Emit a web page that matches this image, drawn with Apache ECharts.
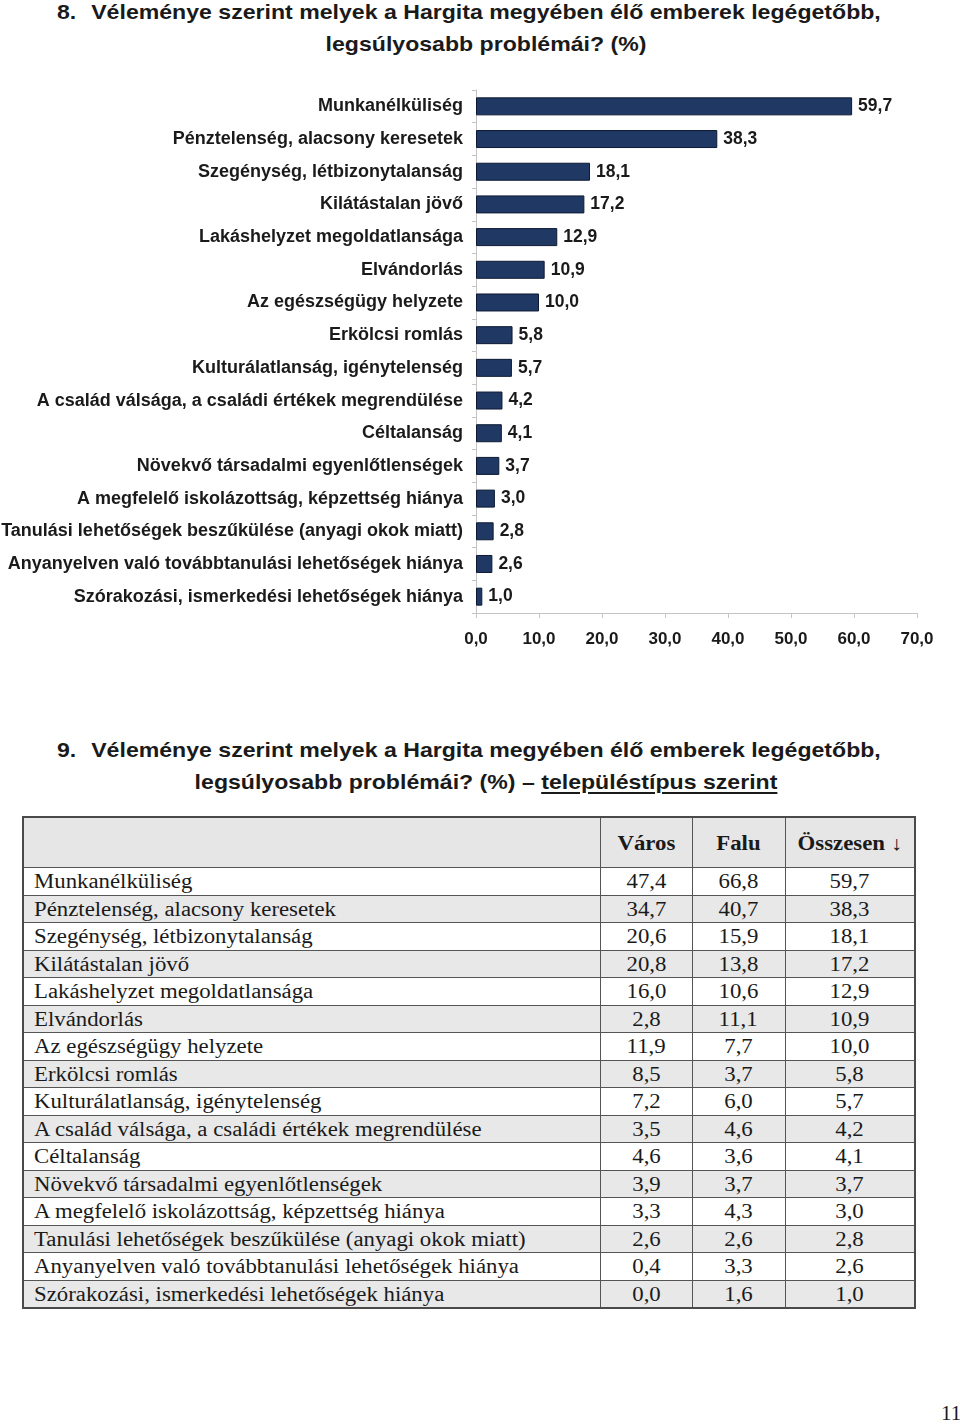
<!DOCTYPE html>
<html>
<head>
<meta charset="utf-8">
<script src="https://cdn.jsdelivr.net/npm/echarts@6/dist/echarts.min.js"></script>
<style>
  body { margin: 0; background: #fff; width: 960px; height: 1425px; position: relative; overflow: hidden; }
  .title { position: absolute; left: 92px; width: 788px; text-align: center; font-family: "Liberation Sans", Arial, sans-serif; font-weight: bold; font-size: 21px; line-height: 32px; color: #1a1a1a; transform: scaleX(1.1); transform-origin: 394px 0; }
  .num { position: absolute; left: 57px; font-family: "Liberation Sans", Arial, sans-serif; font-weight: bold; font-size: 21px; line-height: 32px; color: #1a1a1a; transform: scaleX(1.1); transform-origin: 0 0; }
  .title u { text-decoration-thickness: 2px; text-underline-offset: 3px; }
  #chart1 { position: absolute; left: 0; top: 70px; width: 960px; height: 600px; }
  table { position: absolute; left: 22px; top: 816px; width: 892px; border-collapse: collapse; table-layout: fixed; font-family: "Liberation Serif", "Times New Roman", serif; font-size: 20px; color: #1a1a1a; border: 2px solid #4a4a4a; }
  td, th { border: 1px solid #555; padding: 0; height: 26.5px; line-height: 26px; text-align: center; }
  td.lab { text-align: left; padding-left: 10px; }
  td span, th span { display: inline-block; transform: scaleX(1.14); transform-origin: 50% 50%; }
  td.lab span { transform-origin: 0 50%; }
  th { height: 49px; font-weight: bold; background: #e6e6e6; }
  tr.g td { background: #e8e8e8; }
  .page { position: absolute; left: 941px; top: 1403px; font-family: "Liberation Serif", serif; font-size: 21px; line-height: 21px; color: #1a1a1a; }
</style>
</head>
<body>
<div class="num" style="top:-4px">8.</div>
<div class="title" style="top:-4px">Véleménye szerint melyek a Hargita megyében élő emberek legégetőbb, legsúlyosabb problémái? (%)</div>
<div id="chart1"></div>
<div class="num" style="top:734px">9.</div>
<div class="title" style="top:734px">Véleménye szerint melyek a Hargita megyében élő emberek legégetőbb, legsúlyosabb problémái? (%) – <u>településtípus szerint</u></div>
<table id="tbl"></table>
<div class="page">11</div>
<script>
const categories = ['Munkanélküliség', 'Pénztelenség, alacsony keresetek', 'Szegénység, létbizonytalanság', 'Kilátástalan jövő',
  'Lakáshelyzet megoldatlansága', 'Elvándorlás', 'Az egészségügy helyzete', 'Erkölcsi romlás',
  'Kulturálatlanság, igénytelenség', 'A család válsága, a családi értékek megrendülése', 'Céltalanság',
  'Növekvő társadalmi egyenlőtlenségek', 'A megfelelő iskolázottság, képzettség hiánya',
  'Tanulási lehetőségek beszűkülése (anyagi okok miatt)', 'Anyanyelven való továbbtanulási lehetőségek hiánya',
  'Szórakozási, ismerkedési lehetőségek hiánya']
const osszesen = [59.7, 38.3, 18.1, 17.2, 12.9, 10.9, 10.0, 5.8, 5.7, 4.2, 4.1, 3.7, 3.0, 2.8, 2.6, 1.0]
const varos = [47.4, 34.7, 20.6, 20.8, 16.0, 2.8, 11.9, 8.5, 7.2, 3.5, 4.6, 3.9, 3.3, 2.6, 0.4, 0.0]
const falu = [66.8, 40.7, 15.9, 13.8, 10.6, 11.1, 7.7, 3.7, 6.0, 4.6, 3.6, 3.7, 4.3, 2.6, 3.3, 1.6]
const headers = ['', 'Város', 'Falu', 'Összesen ↓']

function fmt(v) {
  return Number(v).toFixed(1).replace('.', ',')
}

// bar chart
var myChart1 = echarts.init(document.getElementById('chart1'))
myChart1.setOption({
  animation: false,
  textStyle: { fontFamily: 'Liberation Sans, Arial, sans-serif' },
  grid: { left: 476, top: 20, width: 441, height: 523, outerBoundsMode: 'none' },
  xAxis: {
    type: 'value',
    min: 0,
    max: 70,
    interval: 10,
    axisLine: { show: true, lineStyle: { color: '#c4c4c4' } },
    axisTick: { show: true, length: 5, lineStyle: { color: '#c4c4c4' } },
    splitLine: { show: false },
    axisLabel: { formatter: fmt, color: '#1a1a1a', fontWeight: 'bold', fontSize: 17, margin: 18 }
  },
  yAxis: {
    type: 'category',
    inverse: true,
    data: categories,
    axisLine: { show: true, lineStyle: { color: '#c4c4c4' } },
    axisTick: { show: true, length: 4, lineStyle: { color: '#c4c4c4' } },
    axisLabel: { color: '#1a1a1a', fontWeight: 'bold', fontSize: 18, margin: 13 }
  },
  series: [
    {
      type: 'bar',
      data: osszesen,
      barWidth: 18,
      itemStyle: { color: '#1f3864', borderColor: '#0e1a33', borderWidth: 1 },
      label: {
        show: true,
        position: 'right',
        distance: 6,
        formatter: function (p) { return fmt(p.value) },
        color: '#1a1a1a',
        fontWeight: 'bold',
        fontSize: 17.5
      }
    }
  ]
})

// table below
var html = '<colgroup><col style="width:577px"><col style="width:92px"><col style="width:93px"><col style="width:130px"></colgroup>'
html += '<tr>' + headers.map(h => '<th><span>' + h + '</span></th>').join('') + '</tr>'
categories.forEach((c, i) => {
  html += '<tr' + (i % 2 === 1 ? ' class="g"' : '') + '><td class="lab"><span>' + c + '</span></td><td><span>' + fmt(varos[i]) +
    '</span></td><td><span>' + fmt(falu[i]) + '</span></td><td><span>' + fmt(osszesen[i]) + '</span></td></tr>'
})
document.getElementById('tbl').innerHTML = html
</script>
</body>
</html>
